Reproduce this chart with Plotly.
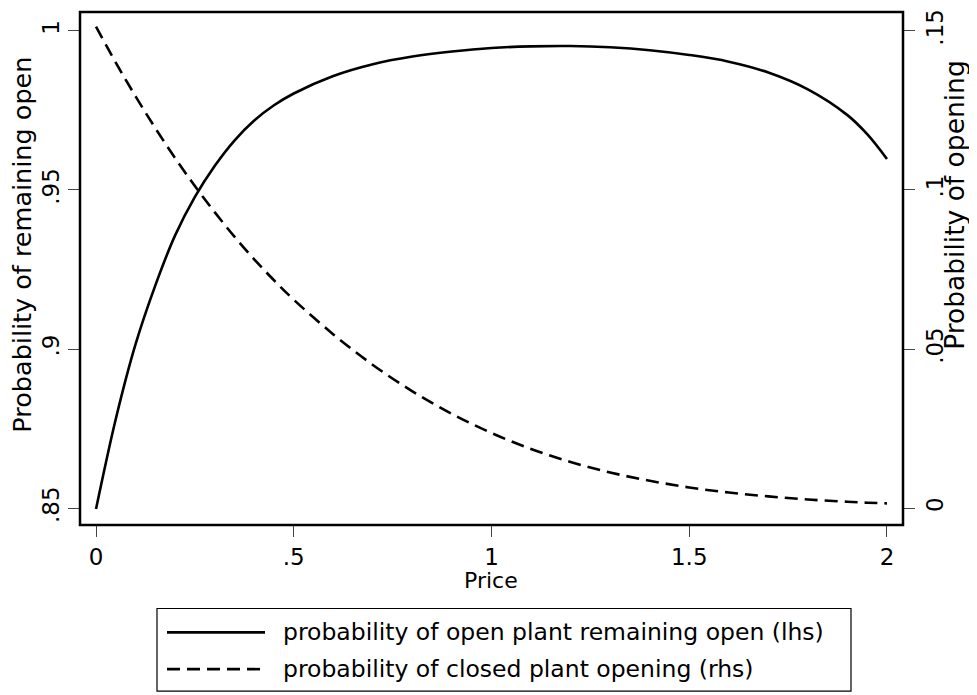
import plotly.graph_objects as go

# ---- data ----
price = [0, 0.05, 0.1, 0.15, 0.2, 0.25, 0.3, 0.35, 0.4, 0.45, 0.5, 0.6, 0.7, 0.8, 0.9,
         1.0, 1.1, 1.2, 1.3, 1.4, 1.5, 1.6, 1.7, 1.8, 1.9, 1.95, 2.0]
prob_remain_open = [0.8497, 0.878, 0.9015, 0.920, 0.9357, 0.9478, 0.9575, 0.9655, 0.9718,
                    0.9766, 0.9803, 0.9858, 0.9895, 0.9919, 0.9935, 0.9946, 0.9951,
                    0.9952, 0.9948, 0.9939, 0.9924, 0.9903, 0.9869, 0.9816, 0.9735,
                    0.9675, 0.9597]
prob_opening = [0.1513, 0.1400, 0.1294, 0.1194, 0.1100, 0.1012, 0.0930, 0.0853, 0.0782,
                0.0716, 0.0655, 0.0546, 0.0450, 0.0367, 0.0296, 0.0236, 0.0186, 0.0145,
                0.0112, 0.0086, 0.0065, 0.0049, 0.0037, 0.0027, 0.0020, 0.0017, 0.0015]

x_ticks = [0, 0.5, 1, 1.5, 2]
x_ticktext = ["0", ".5", "1", "1.5", "2"]
yl_ticks = [0.85, 0.9, 0.95, 1.0]
yl_ticktext = [".85", ".9", ".95", "1"]
yr_ticks = [0, 0.05, 0.1, 0.15]
yr_ticktext = ["0", ".05", ".1", ".15"]

name_lhs = "probability of open plant remaining open (lhs)"
name_rhs = "probability of closed plant opening (rhs)"

FONT = "DejaVu Sans, Verdana, sans-serif"

fig = go.Figure()
fig.add_trace(go.Scatter(x=price, y=prob_remain_open, mode="lines", name=name_lhs,
                         line=dict(color="black", width=2.6, shape="spline", smoothing=1),
                         yaxis="y", showlegend=False))
fig.add_trace(go.Scatter(x=price, y=prob_opening, mode="lines", name=name_rhs,
                         line=dict(color="black", width=2.6, dash="13px,7px",
                                   shape="spline", smoothing=1),
                         yaxis="y2", showlegend=False))

axis_common = dict(showgrid=False, zeroline=False, ticks="outside", ticklen=11,
                   tickwidth=1, tickcolor="#444", showline=False,
                   ticklabeloverflow="allow",
                   tickfont=dict(family=FONT, size=23, color="black"))

# page body has an 8px margin, so the figure is 8px smaller than the window
fig.update_layout(
    width=969, height=687,
    margin=dict(l=72, r=74, t=1, b=170),
    paper_bgcolor="white", plot_bgcolor="white",
    xaxis=dict(range=[-0.0405, 2.0405], tickvals=x_ticks, ticktext=x_ticktext, **axis_common),
    yaxis=dict(range=[0.8447, 1.0059], tickvals=yl_ticks, ticktext=yl_ticktext,
               tickangle=-90, **axis_common),
    yaxis2=dict(range=[0.8447 - 0.85, 1.0059 - 0.85], tickvals=yr_ticks, ticktext=yr_ticktext,
                tickangle=-90, overlaying="y", side="right", **axis_common),
    showlegend=False,
)

# plot frame
fig.add_shape(type="rect", xref="paper", yref="paper", x0=0, y0=0, x1=1, y1=1,
              line=dict(color="black", width=2.5), layer="above")

# positions below are given in reference-pixel terms and converted to paper coords
def px_x(p):
    return (p - 80) / 823

def px_y(p):
    return (525 - p) / 516

# axis titles
fig.add_annotation(text="Price", xref="paper", yref="paper", x=px_x(491), y=px_y(581),
                   showarrow=False, xanchor="center", yanchor="middle",
                   font=dict(family=FONT, size=22, color="black"))
fig.add_annotation(text="Probability of remaining open", xref="paper", yref="paper",
                   x=px_x(22), y=px_y(243), textangle=-90, showarrow=False,
                   xanchor="center", yanchor="middle",
                   font=dict(family=FONT, size=25.5, color="black"))
fig.add_annotation(text="Probability of opening", xref="paper", yref="paper",
                   x=px_x(955), y=px_y(203), textangle=-90, showarrow=False,
                   xanchor="center", yanchor="middle",
                   font=dict(family=FONT, size=26.5, color="black"))

# legend (drawn manually to match the long line samples)
fig.add_shape(type="rect", xref="paper", yref="paper", x0=px_x(157), y0=px_y(692),
              x1=px_x(851), y1=px_y(609),
              line=dict(color="black", width=1.2), fillcolor="white", layer="above")
row_y = [px_y(633), px_y(670)]
fig.add_shape(type="line", xref="paper", yref="paper", x0=px_x(167), x1=px_x(265),
              y0=row_y[0], y1=row_y[0], line=dict(color="black", width=2.6))
fig.add_shape(type="line", xref="paper", yref="paper", x0=px_x(167), x1=px_x(265),
              y0=row_y[1], y1=row_y[1], line=dict(color="black", width=2.6, dash="13px,7px"))
for txt, yy in zip([name_lhs, name_rhs], row_y):
    fig.add_annotation(text=txt, xref="paper", yref="paper", x=px_x(281), y=yy,
                       showarrow=False, xanchor="left", yanchor="middle",
                       font=dict(family=FONT, size=23.5, color="black"))

fig.write_html("out.html")
